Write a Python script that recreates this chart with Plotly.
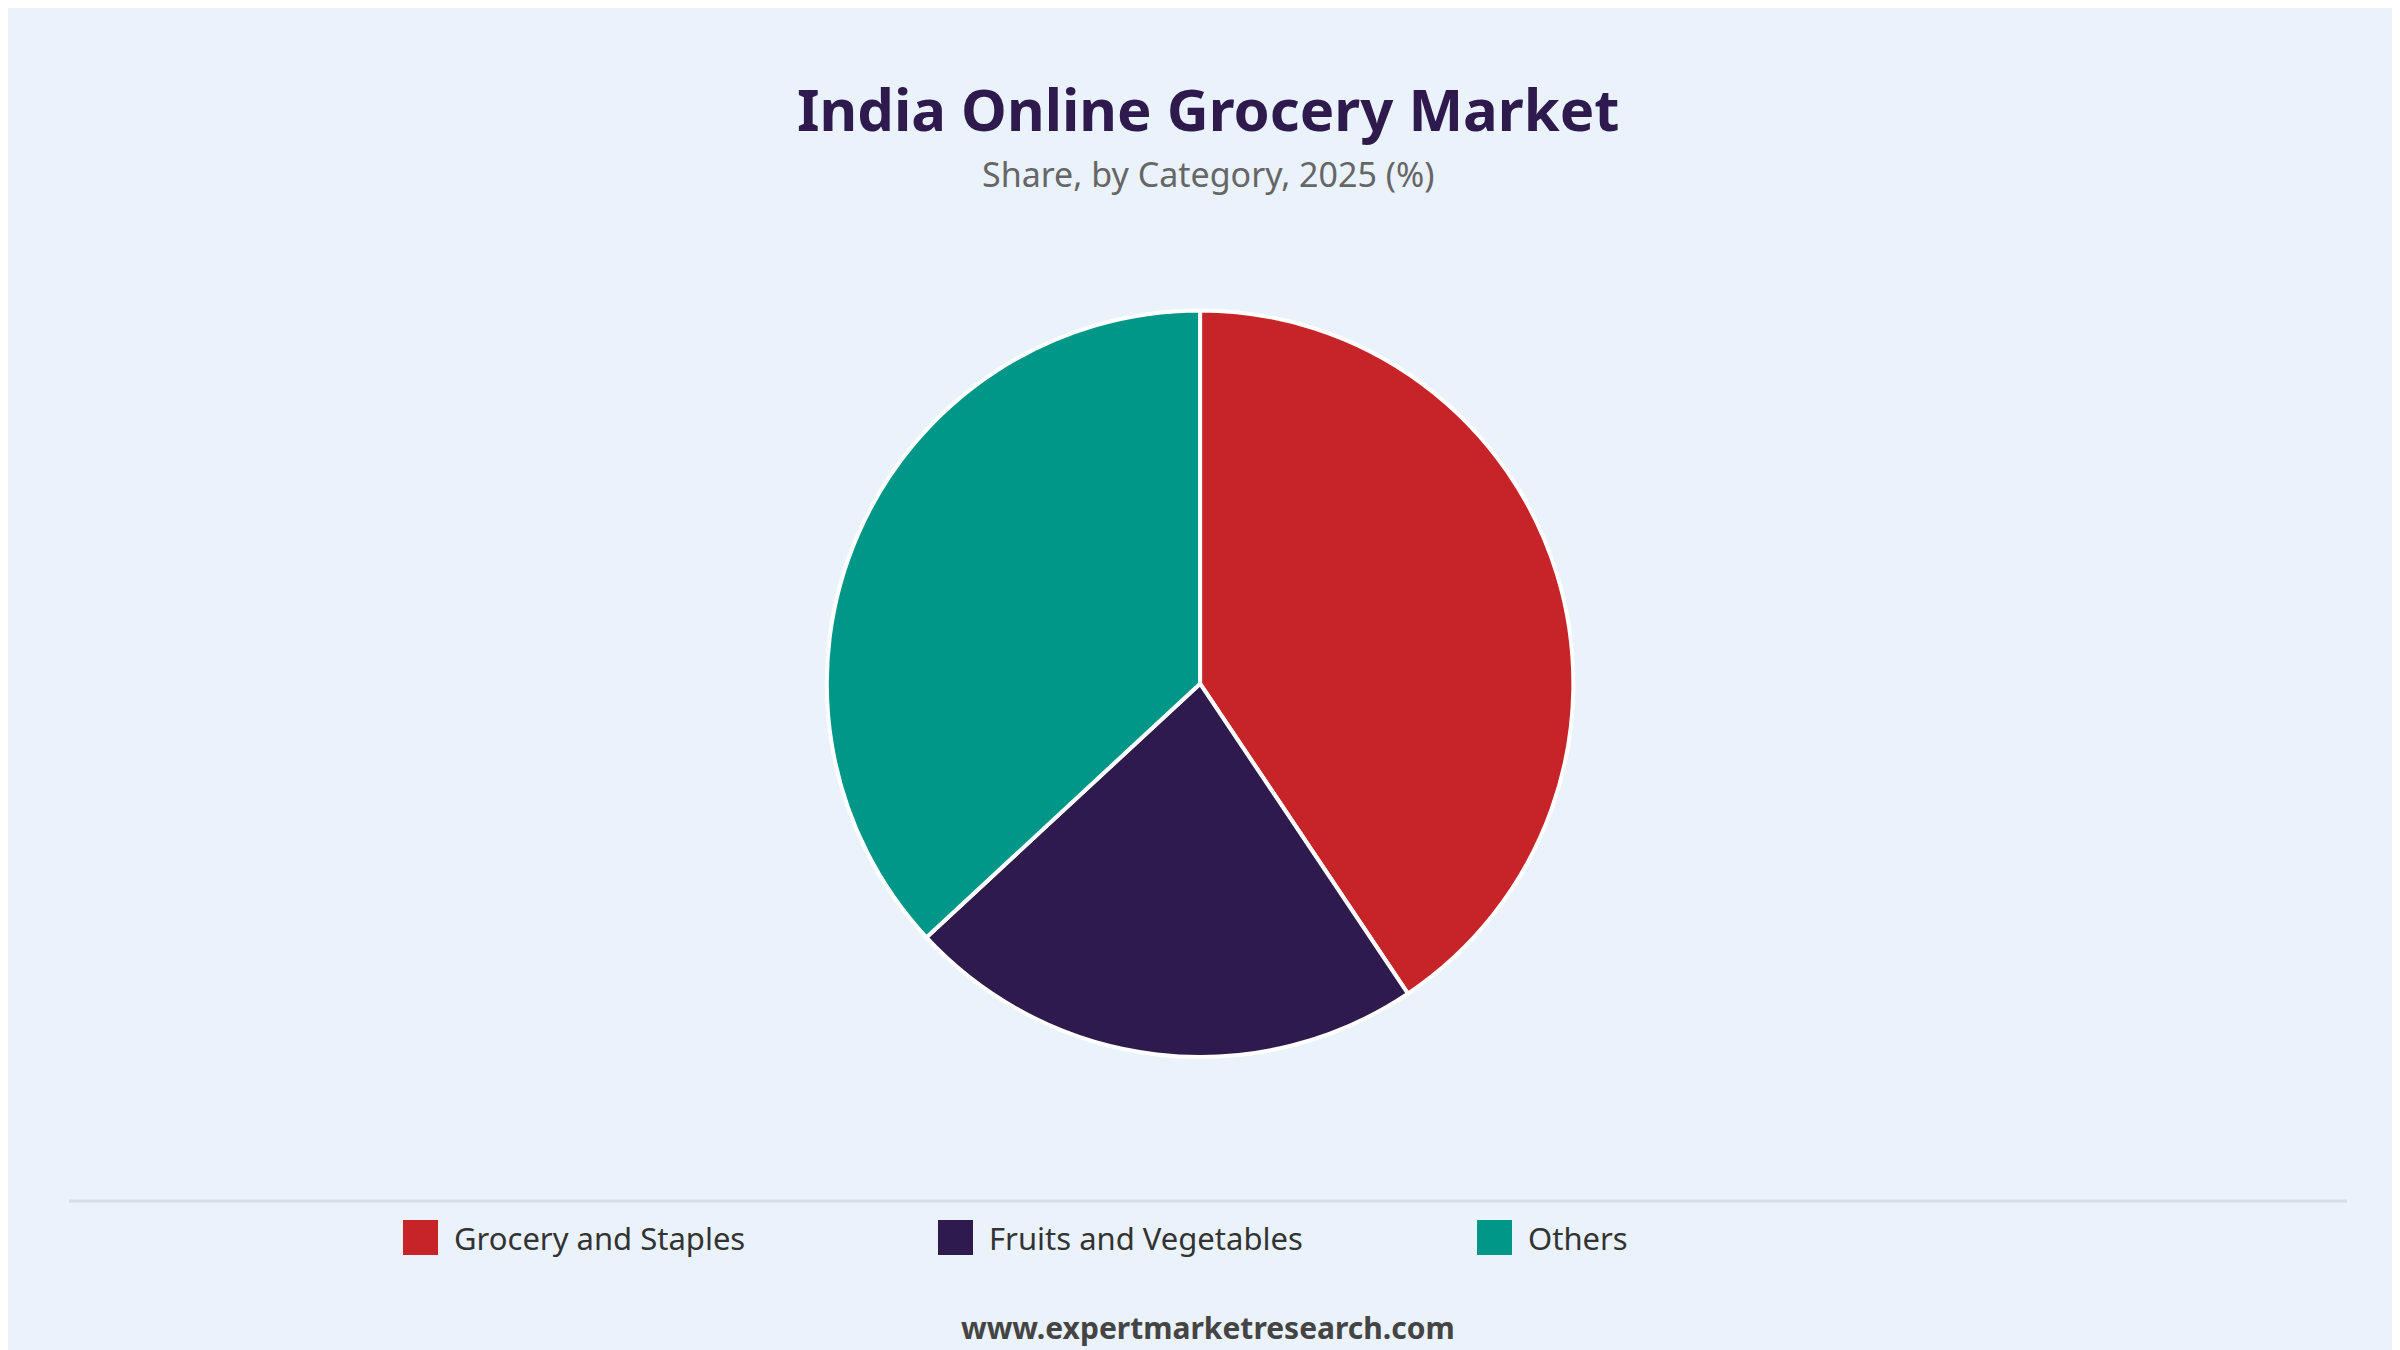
import plotly.graph_objects as go

categories = ["Grocery and Staples", "Fruits and Vegetables", "Others"]
shares = [40.6, 22.5, 36.9]
colors = ["#c62428", "#2e1a4c", "#009688"]
legend_x = [395, 930, 1469]  # left edge of each legend swatch, px

bg = "#eaf2fb"
W, H = 2400, 1350

fig = go.Figure()
fig.add_trace(go.Pie(
    labels=categories, values=shares, sort=False, direction="clockwise", rotation=0,
    marker=dict(colors=colors, line=dict(color="white", width=4)),
    textinfo="none", hoverinfo="label+percent", showlegend=False,
    domain=dict(x=[0.1967, 0.7967], y=[0.223, 0.776]),
))

shapes = [dict(type="line", xref="paper", yref="paper", x0=61 / W, x1=2339 / W,
               y0=1 - 1193 / H, y1=1 - 1193 / H, line=dict(color="#d8dde3", width=3))]
annotations = [
    dict(text="<b>India Online Grocery Market</b>", x=0.5, y=1 - 100 / H, yanchor="middle",
         showarrow=False, font=dict(size=58, color="#2e1a4c", family="Noto Sans")),
    dict(text="Share, by Category, 2025 (%)", x=0.5, y=1 - 166 / H, yanchor="middle",
         showarrow=False, font=dict(size=34, color="#666666")),
    dict(text="<b>www.expertmarketresearch.com</b>", x=0.5, y=1 - 1319 / H, yanchor="middle",
         showarrow=False, font=dict(size=30, color="#444444")),
]
for name, col, lx in zip(categories, colors, legend_x):
    shapes.append(dict(type="rect", xref="paper", yref="paper",
                       x0=lx / W, x1=(lx + 35) / W, y0=1 - 1247 / H, y1=1 - 1212 / H,
                       fillcolor=col, line=dict(width=0)))
    annotations.append(dict(text=name, x=(lx + 49) / W, y=1 - 1230 / H, xanchor="left",
                            yanchor="middle", showarrow=False,
                            font=dict(size=31, color="#333333")))
for a in annotations:
    a.update(xref="paper", yref="paper")

fig.update_layout(
    width=W, height=H, paper_bgcolor=bg, plot_bgcolor=bg,
    margin=dict(l=0, r=0, t=0, b=0),
    font=dict(family="Noto Sans", color="#333333"),
    shapes=shapes, annotations=annotations,
)

fig.write_html("out.html")
